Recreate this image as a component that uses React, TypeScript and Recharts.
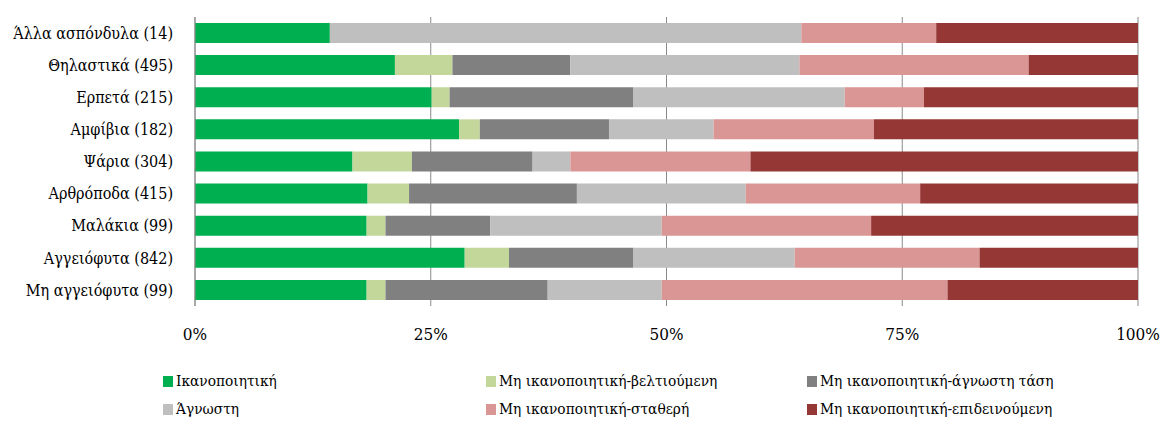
import { BarChart, Bar, XAxis, YAxis, CartesianGrid } from "recharts"

const categories = [
    "Άλλα ασπόνδυλα (14)",
    "Θηλαστικά (495)",
    "Ερπετά (215)",
    "Αμφίβια (182)",
    "Ψάρια (304)",
    "Αρθρόποδα (415)",
    "Μαλάκια (99)",
    "Αγγειόφυτα (842)",
    "Μη αγγειόφυτα (99)",
]

const satisfactory = [14.3, 21.2, 25.1, 28.0, 16.7, 18.3, 18.2, 28.6, 18.2]
const improving = [0, 6.1, 1.9, 2.2, 6.3, 4.4, 2.0, 4.7, 2.0]
const unknownTrend = [0, 12.5, 19.5, 13.7, 12.8, 17.8, 11.1, 13.2, 17.2]
const unknown = [50.0, 24.3, 22.4, 11.1, 4.0, 17.9, 18.2, 17.1, 12.1]
const stable = [14.3, 24.3, 8.4, 17.0, 19.1, 18.5, 22.2, 19.6, 30.3]
const deteriorating = [21.4, 11.6, 22.7, 28.0, 41.1, 23.1, 28.3, 16.8, 20.2]

const xTicks = [0, 0.25, 0.5, 0.75, 1]

const series = [
    { key: "satisfactory", name: "Ικανοποιητική", color: "#00B050" },
    { key: "improving", name: "Μη ικανοποιητική-βελτιούμενη", color: "#C4D79B" },
    { key: "unknownTrend", name: "Μη ικανοποιητική-άγνωστη τάση", color: "#808080" },
    { key: "unknown", name: "Άγνωστη", color: "#BFBFBF" },
    { key: "stable", name: "Μη ικανοποιητική-σταθερή", color: "#DA9694" },
    { key: "deteriorating", name: "Μη ικανοποιητική-επιδεινούμενη", color: "#953735" },
]

const data = categories.map((name, i) => ({
    name,
    satisfactory: satisfactory[i],
    improving: improving[i],
    unknownTrend: unknownTrend[i],
    unknown: unknown[i],
    stable: stable[i],
    deteriorating: deteriorating[i],
}))

const FONT = "'DejaVu Serif Condensed', 'DejaVu Serif', serif"

// legend in 3 columns, 2 rows like the original
const LegendBox = () => {
    const colLeft = [163, 486, 807]
    return (
        <div style={{ position: "absolute", left: 0, top: 372, width: 1163, height: 60, fontFamily: FONT, fontSize: 15.3 }}>
            {series.map((s, i) => (
                <div
                    key={s.key}
                    style={{
                        position: "absolute",
                        left: colLeft[i % 3],
                        top: Math.floor(i / 3) * 28,
                        display: "flex",
                        alignItems: "center",
                        whiteSpace: "nowrap",
                        color: "#000",
                    }}
                >
                    <span style={{ display: "inline-block", width: 10, height: 11, background: s.color, marginRight: 3 }} />
                    {s.name}
                </div>
            ))}
        </div>
    )
}

export default function App() {
    return (
        <div style={{ position: "relative", width: 1163, height: 421, background: "#fff" }}>
            <style>{`body{margin:0}`}</style>
            <BarChart
                width={1163}
                height={421}
                data={data}
                layout="vertical"
                stackOffset="expand"
                barSize={20}
                margin={{ top: 17, right: 25, left: 0, bottom: 75 }}
            >
                <CartesianGrid horizontal={false} stroke="#8a8a8a" />
                <XAxis
                    type="number"
                    domain={[0, 1]}
                    ticks={xTicks}
                    tickFormatter={(v) => `${Math.round(v * 100)}%`}
                    axisLine={false}
                    tickLine={false}
                    tick={{ fontSize: 17, fill: "#000", fontFamily: FONT }}
                    tickMargin={16}
                    height={40}
                />
                <YAxis
                    type="category"
                    dataKey="name"
                    width={195}
                    interval={0}
                    axisLine={{ stroke: "#8a8a8a" }}
                    tickLine={false}
                    tick={{ fontSize: 16, fill: "#000", fontFamily: FONT }}
                    tickMargin={16}
                />
                {series.map((s) => (
                    <Bar key={s.key} dataKey={s.key} name={s.name} stackId="a" fill={s.color} isAnimationActive={false} />
                ))}
            </BarChart>
            <LegendBox />
        </div>
    )
}
